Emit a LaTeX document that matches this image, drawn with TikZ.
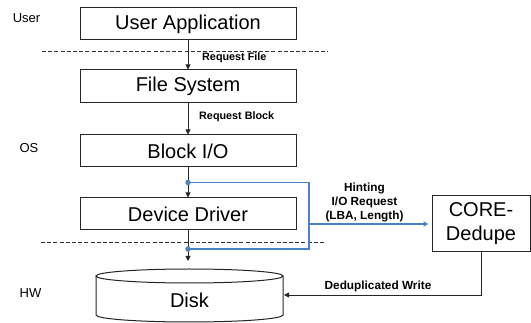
\documentclass[tikz,border=0pt]{standalone}
\usepackage{fontspec}
\setmainfont{Liberation Sans}
\usetikzlibrary{arrows.meta}
\definecolor{hintblue}{RGB}{74,130,198}
\begin{document}
\begin{tikzpicture}[x=1pt,y=-1pt,
  layerbox/.style={draw=black!85,line width=1pt,minimum width=216pt,minimum height=32pt,inner sep=0pt,font=\fontsize{20}{22}\selectfont},
  sidelabel/.style={font=\fontsize{13}{15}\selectfont,inner sep=0pt},
  reqlabel/.style={font=\bfseries\fontsize{10.8}{12}\selectfont,inner sep=0pt,anchor=west},
  hintlabel/.style={font=\bfseries\fontsize{11.8}{14}\selectfont,inner sep=0pt,align=center},
  flow/.style={draw=black!85,line width=0.9pt,-{Triangle[length=5pt,width=5pt]}},
  layerline/.style={draw=black!80,line width=0.8pt,dash pattern=on 4pt off 2.2pt},
  hint/.style={draw=hintblue,line width=1.6pt},
  tapdot/.style={circle,fill=hintblue,inner sep=0pt,minimum size=5.5pt}]
\useasboundingbox (0,0) rectangle (531,323);

% layers of the storage stack
\node[layerbox] (app) at (188,24) {User Application};
\node[layerbox,minimum height=33pt] (fs) at (188,86.5) {File System};
\node[layerbox] (bio) at (188,151) {Block I/O};
\node[layerbox] (drv) at (188,214) {Device Driver};
\node[draw=black!85,line width=1pt,minimum width=98pt,minimum height=56pt,inner sep=0pt,
      align=center,font=\fontsize{20}{24}\selectfont] (core) at (481,224) {CORE-\\Dedupe};

% side labels
\node[sidelabel] (luser) at (26.5,18) {User};
\node[sidelabel] (los) at (29,148) {OS};
\node[sidelabel] (lhw) at (30.5,293) {HW};

% user / kernel and kernel / hardware boundaries
\coordinate (b1l) at (42,51.5);
\coordinate (b1r) at (328,51.5);
\coordinate (b2l) at (41,242.5);
\coordinate (b2r) at (326,242.5);
\draw[layerline] (b1l) -- (b1r);
\draw[layerline] (b2l) -- (b2r);

% disk cylinder
\draw[draw=black!85,line width=1pt,fill=white]
  (96,276) -- (96,315) arc[start angle=180,end angle=360,x radius=93.5,y radius=-7]
  -- (283,276);
\draw[draw=black!85,line width=1pt] (189.5,276) ellipse[x radius=93.5,y radius=7];
\node[font=\fontsize{20}{22}\selectfont,inner sep=0pt] (disk) at (189.5,300) {Disk};
\coordinate (disktop) at (188,261);
\coordinate (diskright) at (284,295);

% request flow down the stack
\draw[flow] (app.south) -- (fs.north);
\draw[flow] (fs.south) -- (bio.north);
\draw[flow] (bio.south) -- (drv.north);
\draw[flow] (drv.south) -- (disktop);
\node[reqlabel] (lfile) at (202,58) {Request File};
\node[reqlabel] (lblock) at (199,117) {Request Block};

% hint path to CORE-Dedupe
\node[tapdot] (tap1) at (188,182.5) {};
\node[tapdot] (tap2) at (188,249) {};
\coordinate (hr1) at (309,182.5);
\coordinate (hr2) at (309,249);
\coordinate (hmid) at (309,224);
\draw[hint] (tap1.center) -- (hr1) -- (hr2) -- (tap2.center);
\draw[hint,-{Triangle[length=5pt,width=5pt]},shorten >=3pt] (hmid) -- (core.west);
\node[hintlabel] (lhint) at (364.5,202.5) {Hinting\\I/O Request\\(LBA, Length)};

% deduplicated write back to the disk
\draw[flow] (core.south) |- (diskright);
\node[hintlabel] (ldedup) at (378,286) {Deduplicated Write};
\end{tikzpicture}
\end{document}
